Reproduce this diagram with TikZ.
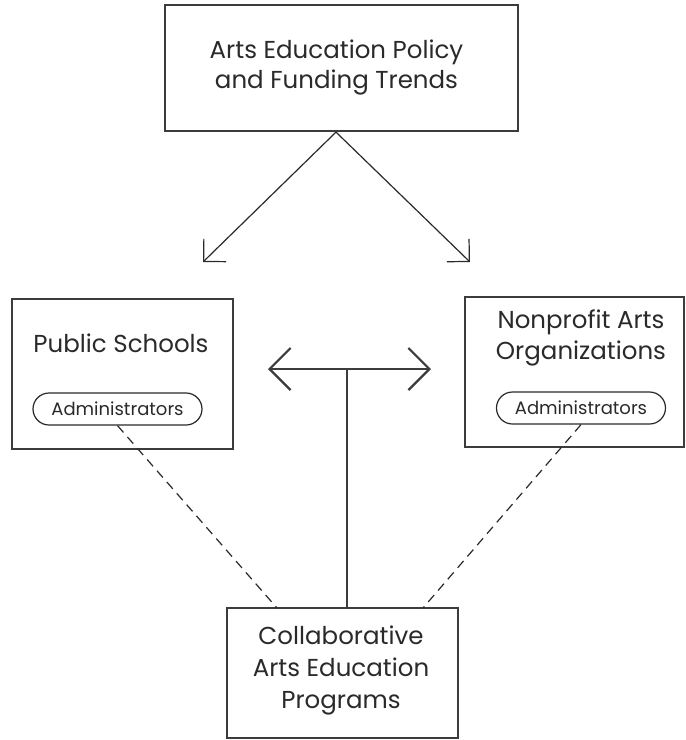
\documentclass[tikz,border=0pt]{standalone}
\usepackage{fontspec}
\setmainfont{Poppins}
\usetikzlibrary{arrows.meta}
\definecolor{boxline}{HTML}{3C3C3C}
\definecolor{ink}{HTML}{2A2A2A}
\tikzset{
  box/.style={draw=boxline, line width=2.2pt, rectangle, inner sep=0pt},
  label/.style={text=ink, align=center, font=\fontsize{24.5}{30}\selectfont, inner sep=0pt},
  pill/.style={draw=ink, line width=1.2pt, rounded corners=16pt, minimum width=169pt, minimum height=32pt, inner sep=0pt, text=ink, font=\fontsize{18}{20}\selectfont},
  flow/.style={draw=ink, line width=1.2pt, -{Straight Barb[length=16pt,width=32pt,line width=1.2pt]}},
  tbar/.style={draw=boxline, line width=2.2pt, {Straight Barb[length=21pt,width=42pt,line width=2.2pt]}-{Straight Barb[length=21pt,width=42pt,line width=2.2pt]}},
  tstem/.style={draw=boxline, line width=2.2pt},
  link/.style={draw=ink, line width=1.2pt, dash pattern=on 9pt off 6pt}
}
\begin{document}
\begin{tikzpicture}[x=1pt,y=-1pt]
\useasboundingbox[fill=white] (0,0) rectangle (686,740);
% boxes
\node[box, minimum width=353pt, minimum height=126pt] (top) at (341.5,68) {};
\node[box, minimum width=221pt, minimum height=150pt] (ps) at (122.5,374) {};
\node[box, minimum width=219pt, minimum height=150pt] (np) at (574.5,372) {};
\node[box, minimum width=231pt, minimum height=130pt] (cp) at (342.5,673) {};
% texts
\node[label] (toptext) at (336.5,67.5) {Arts Education Policy\\and Funding Trends};
\node[label] (pstext) at (121,343) {Public Schools};
\node[label, font=\fontsize{24.5}{31}\selectfont] (nptext) at (581,337.5) {Nonprofit Arts\\Organizations};
\node[label, font=\fontsize{24.5}{32}\selectfont] (cptext) at (341,670) {Collaborative\\Arts Education\\Programs};
% pills
\node[pill] (adm1) at (117.5,409) {Administrators};
\node[pill] (adm2) at (581,408) {Administrators};
% arrows from top
\coordinate (a1) at (203,262);
\coordinate (a2) at (470,262);
\draw[flow] (top.south -| 336,0) -- (a1);
\draw[flow] (top.south -| 336,0) -- (a2);
% T-shape
\coordinate (tl) at (268,369);
\coordinate (tr) at (431,369);
\coordinate (tm) at (347,369);
\draw[tbar] (tl) -- (tr);
\draw[tstem] (tm) -- (tm |- cp.north);
% dashed links
\coordinate (d1) at (277,608);
\coordinate (d2) at (423,608);
\draw[link] (adm1.south) -- (d1);
\draw[link] (adm2.south) -- (d2);
\end{tikzpicture}
\end{document}
